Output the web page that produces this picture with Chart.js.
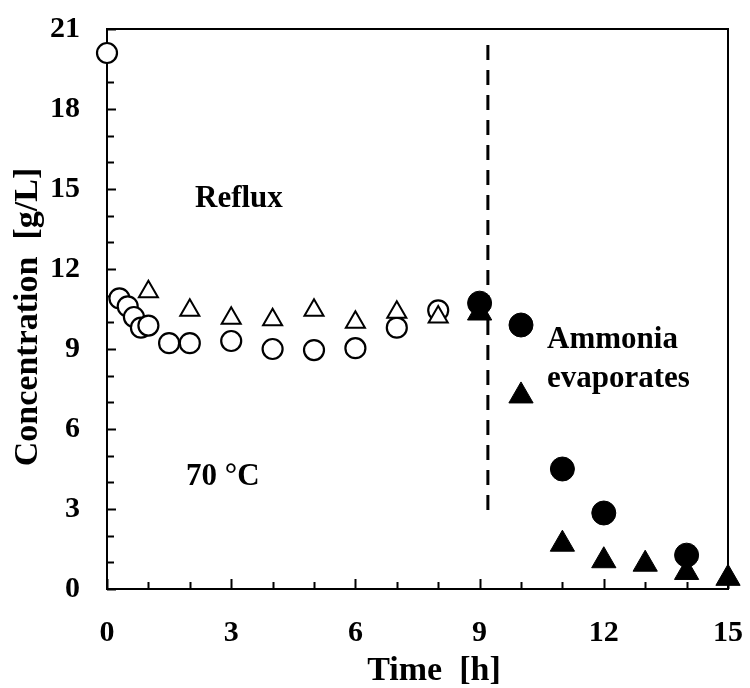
<!DOCTYPE html>
<html>
<head>
<meta charset="utf-8">
<script src="https://cdn.jsdelivr.net/npm/chart.js@4.4.1/dist/chart.umd.min.js"></script>
<style>
  html, body { margin: 0; padding: 0; background: #fff; }
  #wrap { width: 750px; height: 688px; }
</style>
</head>
<body>
<div id="wrap"><canvas id="chart" width="750" height="688"></canvas></div>
<script>
// Reflux period (open symbols) and evaporation period (filled symbols)
const openCircleTime = [0, 0.3, 0.5, 0.65, 0.82, 1, 1.5, 2, 3, 4, 5, 6, 7, 8];
const openCircleConc = [20.1, 10.9, 10.6, 10.2, 9.8, 9.88, 9.22, 9.22, 9.3, 9.0, 8.96, 9.03, 9.8, 10.45];

const openTriTime = [1, 2, 3, 4, 5, 6, 7, 8];
const openTriConc = [11.15, 10.45, 10.15, 10.1, 10.45, 10.0, 10.38, 10.2];

const filledCircleTime = [9, 10, 11, 12, 14];
const filledCircleConc = [10.72, 9.9, 4.5, 2.85, 1.27];

const filledTriTime = [9, 10, 11, 12, 13, 14, 15];
const filledTriConc = [10.35, 7.24, 1.68, 1.06, 0.93, 0.62, 0.4];

// vertical dashed divider
const dividerTime = [9.2, 9.2];
const dividerConc = [20.4, 2.8];

const xTickStep = 3;
const yTickStep = 3;

const FONT = "'Liberation Serif', 'Times New Roman', serif";

function toPoints(xs, ys) {
  return xs.map((x, i) => ({ x: x, y: ys[i] }));
}

// frame, inward tick marks, axis titles and notes
const frameTicks = {
  id: "frameTicks",
  beforeDatasetsDraw(chart) {
    const { ctx, chartArea: a, scales } = chart;
    const x = scales.x, y = scales.y;
    ctx.save();
    ctx.strokeStyle = "#000";
    ctx.lineWidth = 2;
    ctx.strokeRect(a.left, a.top, a.right - a.left, a.bottom - a.top);
    ctx.beginPath();
    for (let t = x.min; t <= x.max; t++) {
      const px = Math.round(x.getPixelForValue(t)) + 0.5;
      const len = t % xTickStep === 0 ? 10 : 7;
      ctx.moveTo(px, a.bottom);
      ctx.lineTo(px, a.bottom - len);
    }
    for (let v = y.min; v <= y.max; v++) {
      const py = Math.round(y.getPixelForValue(v)) + 0.5;
      const len = v % yTickStep === 0 ? 9 : 7;
      ctx.moveTo(a.left, py);
      ctx.lineTo(a.left + len, py);
    }
    ctx.stroke();
    ctx.restore();
  },
  afterDraw(chart) {
    const { ctx } = chart;
    ctx.save();
    ctx.fillStyle = "#000";
    ctx.font = "bold 34px " + FONT;
    ctx.textAlign = "center";
    ctx.textBaseline = "alphabetic";
    ctx.fillText("Time  [h]", 434, 680);
    ctx.translate(37, 317);
    ctx.rotate(-Math.PI / 2);
    ctx.fillText("Concentration  [g/L]", 0, 0);
    ctx.restore();

    ctx.save();
    ctx.fillStyle = "#000";
    ctx.font = "bold 31px " + FONT;
    ctx.textAlign = "left";
    ctx.textBaseline = "alphabetic";
    ctx.fillText("Reflux", 195, 207);
    ctx.fillText("70 °C", 186, 485);
    ctx.fillText("Ammonia", 547, 348);
    ctx.fillText("evaporates", 547, 387);
    ctx.restore();
  }
};

const ctx = document.getElementById("chart").getContext("2d");

new Chart(ctx, {
  type: "scatter",
  data: {
    datasets: [
      {
        label: "divider",
        type: "line",
        data: toPoints(dividerTime, dividerConc),
        borderColor: "#000",
        borderWidth: 3,
        borderDash: [15, 10],
        pointRadius: 0,
        fill: false
      },
      {
        label: "open triangle",
        data: toPoints(openTriTime, openTriConc),
        pointStyle: "triangle",
        pointRadius: 11,
        backgroundColor: "#fff",
        borderColor: "#000",
        borderWidth: 2
      },
      {
        label: "open circle",
        data: toPoints(openCircleTime, openCircleConc),
        pointStyle: "circle",
        pointRadius: 10,
        backgroundColor: "#fff",
        borderColor: "#000",
        borderWidth: 2.2
      },
      {
        label: "filled triangle",
        data: toPoints(filledTriTime, filledTriConc),
        pointStyle: "triangle",
        pointRadius: 14,
        backgroundColor: "#000",
        borderColor: "#000",
        borderWidth: 1
      },
      {
        label: "filled circle",
        data: toPoints(filledCircleTime, filledCircleConc),
        pointStyle: "circle",
        pointRadius: 12,
        backgroundColor: "#000",
        borderColor: "#000",
        borderWidth: 1
      }
    ]
  },
  options: {
    responsive: false,
    animation: false,
    clip: false,
    layout: { padding: { top: 29, right: 22, left: 0, bottom: 0 } },
    plugins: {
      legend: { display: false },
      tooltip: { enabled: false }
    },
    scales: {
      x: {
        type: "linear",
        min: 0,
        max: 15,
        afterFit: (scale) => {
          scale.height = 99;
          scale.paddingLeft = 0;
          scale.paddingRight = 0;
        },
        grid: { display: false, drawTicks: false },
        border: { display: false },
        ticks: {
          stepSize: xTickStep,
          padding: 26,
          maxRotation: 0,
          autoSkip: false,
          color: "#000",
          font: { family: FONT, size: 30, weight: "bold" }
        }
      },
      y: {
        min: 0,
        max: 21,
        afterFit: (scale) => {
          scale.width = 107;
          scale.paddingTop = 0;
          scale.paddingBottom = 0;
        },
        grid: { display: false, drawTicks: false },
        border: { display: false },
        ticks: {
          stepSize: yTickStep,
          padding: 27,
          color: "#000",
          font: { family: FONT, size: 30, weight: "bold" }
        }
      }
    }
  },
  plugins: [frameTicks]
});
</script>
</body>
</html>
